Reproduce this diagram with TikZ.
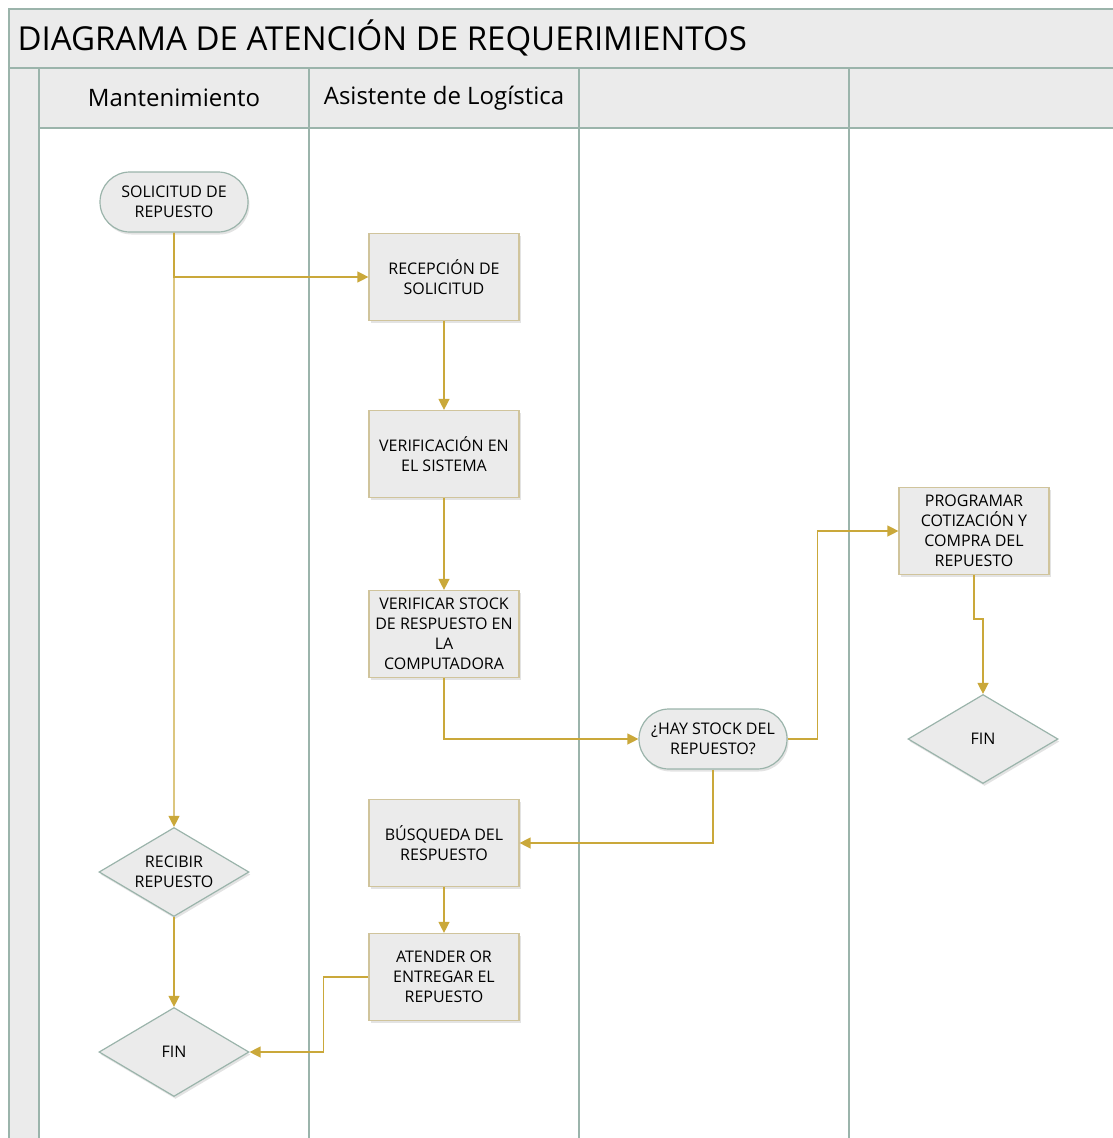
\documentclass[tikz,border=0pt]{standalone}
\usepackage{fontspec}
\setmainfont{Open Sans}
\usepackage{tikz}
\usetikzlibrary{shapes.geometric,shapes.misc,shadows,arrows.meta}
\definecolor{carrilc}{RGB}{155,180,171}
\definecolor{flujoc}{RGB}{202,168,58}
\definecolor{rellenoc}{RGB}{235,235,235}
\definecolor{bordec}{RGB}{208,196,156}
\tikzset{
  carril/.style={draw=carrilc, line width=1.6pt},
  sombra/.style={drop shadow={opacity=0.22, shadow xshift=1.5pt, shadow yshift=-2.5pt}},
  proceso/.style={rectangle, draw=bordec, fill=rellenoc, line width=1.2pt, sombra,
    minimum width=150pt, minimum height=87pt, align=center, inner sep=1pt,
    font=\fontsize{16}{20}\selectfont},
  terminal/.style={rounded rectangle, draw=carrilc, fill=rellenoc, line width=1.2pt, sombra,
    minimum width=150pt, minimum height=60pt, align=center, inner sep=1pt,
    font=\fontsize{16}{20}\selectfont},
  decision/.style={diamond, aspect=1.69, draw=carrilc, fill=rellenoc, line width=1.2pt, sombra,
    minimum width=150pt, minimum height=89pt, align=center, inner sep=0pt,
    font=\fontsize{16}{20}\selectfont},
  flujo/.style={draw=flujoc, line width=1.3pt, -{Triangle[length=11pt,width=11pt]}}
}

\begin{document}
\begin{tikzpicture}[x=1pt, y=-1pt]
  \useasboundingbox (0, 0) rectangle (1113, 1138);

  % carriles
  \fill[rellenoc] (9, 9) rectangle (1113, 128);
  \fill[rellenoc] (9, 128) rectangle (39, 1138);
  \draw[carril] (9, 1138) -- (9, 9) -- (1113, 9);
  \draw[carril] (9, 68) -- (1113, 68);
  \draw[carril] (39, 128) -- (1113, 128);
  \foreach \x in {39, 309, 579, 849}
    \draw[carril] (\x, 68) -- (\x, 1138);

  \node[anchor=west, font=\fontsize{33}{38}\selectfont] at (14, 38) (titulo) {DIAGRAMA DE ATENCIÓN DE REQUERIMIENTOS};
  \node[font=\fontsize{24}{28}\selectfont] at (174, 98) (mant) {Mantenimiento};
  \node[font=\fontsize{24}{28}\selectfont] at (444, 98) (asis) {Asistente de Logística};

  \node[terminal] at (174, 202) (sol) {SOLICITUD DE\\REPUESTO};
  \node[proceso] at (444, 277) (recep) {RECEPCIÓN DE\\SOLICITUD};
  \node[proceso] at (444, 454) (verif) {VERIFICACIÓN EN\\EL SISTEMA};
  \node[proceso] at (444, 634) (stock) {VERIFICAR STOCK\\DE RESPUESTO EN\\LA\\COMPUTADORA};
  \node[terminal] at (713, 739) (hay) {¿HAY STOCK DEL\\REPUESTO?};
  \node[proceso] at (974, 531) (prog) {PROGRAMAR\\COTIZACIÓN Y\\COMPRA DEL\\REPUESTO};
  \node[decision] at (983, 739) (finB) {FIN};
  \node[proceso] at (444, 843) (busq) {BÚSQUEDA DEL\\RESPUESTO};
  \node[proceso] at (444, 977) (atender) {ATENDER OR\\ENTREGAR EL\\REPUESTO};
  \node[decision] at (174, 872) (recibir) {RECIBIR\\REPUESTO};
  \node[decision] at (174, 1052) (finA) {FIN};

  % flujo
  \draw[flujo] (sol) -- (recibir);
  \draw[flujo] (sol.south) |- (recep.west);
  \draw[flujo] (recep) -- (verif);
  \draw[flujo] (verif) -- (stock);
  \draw[flujo] (stock.south) |- (hay.west);
  \draw[flujo] (hay.east) -- ++(30, 0) |- (prog.west);
  \draw[flujo] (prog.south) -- ++(0, 44) -| (finB.north);
  \draw[flujo] (hay.south) |- (busq.east);
  \draw[flujo] (busq) -- (atender);
  \draw[flujo] (recibir) -- (finA);
  \draw[flujo] (atender.west) -- ++(-45, 0) |- (finA.east);
\end{tikzpicture}
\end{document}
